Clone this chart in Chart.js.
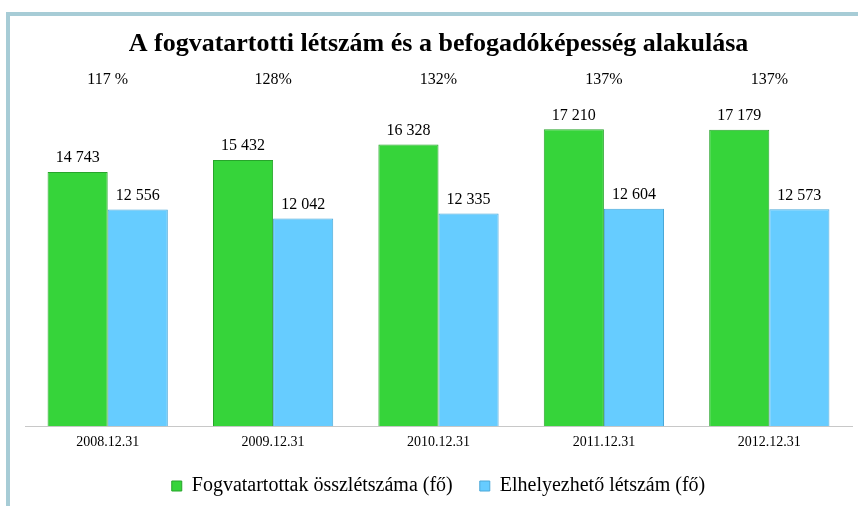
<!DOCTYPE html>
<html>
<head>
<meta charset="utf-8">
<script src="https://cdn.jsdelivr.net/npm/chart.js@4"></script>
<style>
  html, body { margin: 0; padding: 0; background: #fff; overflow: hidden; }
  #frame { position: absolute; left: 6px; top: 12px; width: 900px; height: 600px; border: 4px solid #a7ccd6; }
  #wrap { position: absolute; left: 0; top: 0; width: 858px; height: 506px; }
</style>
</head>
<body>
<div id="frame"></div>
<div id="wrap"><canvas id="chart" width="858" height="506"></canvas></div>
<script>
// adatok
const labels = ['2008.12.31', '2009.12.31', '2010.12.31', '2011.12.31', '2012.12.31']
const fogvatartottak = [14743, 15432, 16328, 17210, 17179]
const elhelyezheto = [12556, 12042, 12335, 12604, 12573]
const telitettseg = ['117 %', '128%', '132%', '137%', '137%']

const serif = "'Liberation Serif', 'Times New Roman', serif"

function fmt(v) {
  return String(v).replace(/\B(?=(\d{3})+(?!\d))/g, ' ')
}

// számok a hasábok fölött + százalékok
const labelsPlugin = {
  id: 'labelsPlugin',
  afterDatasetsDraw(chart) {
    const ctx = chart.ctx
    ctx.save()
    ctx.fillStyle = '#000'
    ctx.textAlign = 'center'
    ctx.textBaseline = 'bottom'
    ctx.font = '16px ' + serif
    chart.data.datasets.forEach((ds, i) => {
      chart.getDatasetMeta(i).data.forEach((bar, j) => {
        ctx.fillText(fmt(ds.data[j]), bar.x, bar.y - 6)
      })
    })
    const x = chart.scales.x
    ctx.textBaseline = 'middle'
    telitettseg.forEach((t, j) => {
      ctx.fillText(t, x.getPixelForValue(j), chart.chartArea.top - 1)
    })
    ctx.restore()
  }
}

const canvas = document.querySelector('#chart')
new Chart(canvas, {
  type: 'bar',
  data: {
    labels: labels,
    datasets: [
      {
        label: 'Fogvatartottak összlétszáma (fő)',
        data: fogvatartottak,
        backgroundColor: '#36d43a',
        borderColor: '#27a52b',
        borderWidth: 1
      },
      {
        label: 'Elhelyezhető létszám (fő)',
        data: elhelyezheto,
        backgroundColor: '#66ccff',
        borderColor: '#4aa8d8',
        borderWidth: 1
      }
    ]
  },
  options: {
    responsive: false,
    animation: false,
    layout: { padding: { left: 25, right: 6, bottom: 0 } },
    categoryPercentage: 0.727,
    barPercentage: 1,
    scales: {
      x: {
        grid: { display: false, drawTicks: false },
        border: { color: '#c8c8c8', width: 1 },
        ticks: { color: '#000', font: { family: serif, size: 14 }, padding: 8 }
      },
      y: {
        display: false,
        min: 0,
        max: 20000
      }
    },
    plugins: {
      title: {
        display: true,
        text: 'A fogvatartotti létszám és a befogadóképesség alakulása',
        color: '#000',
        font: { family: serif, size: 26, weight: 'bold' },
        padding: { top: 29, bottom: 21 }
      },
      legend: {
        position: 'bottom',
        labels: {
          color: '#000',
          font: { family: serif, size: 20 },
          boxWidth: 10,
          boxHeight: 10,
          padding: 17,
          generateLabels(chart) {
            const items = Chart.defaults.plugins.legend.labels.generateLabels(chart)
            items[0].text += '  '
            return items
          }
        }
      },
      tooltip: { enabled: false }
    }
  },
  plugins: [labelsPlugin]
})
</script>
</body>
</html>
